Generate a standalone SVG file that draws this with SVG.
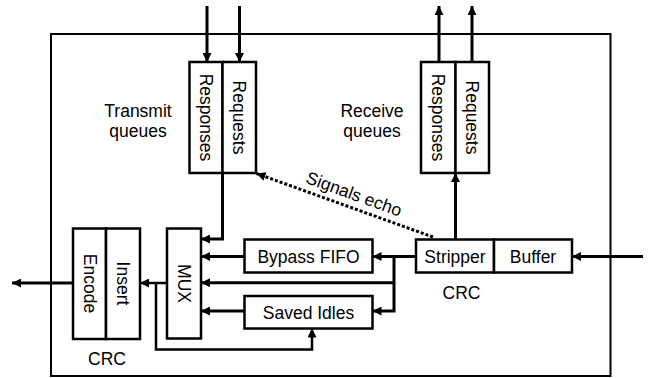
<svg xmlns="http://www.w3.org/2000/svg" width="653" height="378" viewBox="0 0 653 378">
<defs>
<style>
.box{fill:#fff;stroke:#000;stroke-width:2.5}
.frame{fill:none;stroke:#000;stroke-width:2}
.c{fill:none;stroke:#000;stroke-width:3}
.t{stroke-width:2.5}
.dot{fill:none;stroke:#000;stroke-width:3;stroke-dasharray:3 2}
text{font-family:"Liberation Sans",Arial,sans-serif;font-size:17.5px;fill:#000}
.m{text-anchor:middle}
</style>
<marker id="ah" viewBox="0 0 10 10" refX="10" refY="5" markerWidth="9" markerHeight="9" markerUnits="userSpaceOnUse" orient="auto">
<path d="M0,0 L10,5 L0,10 z" fill="#000"/>
</marker>
</defs>
<rect class="frame" x="51" y="34" width="559.5" height="342"/>

<g id="connectors">
<path class="c" d="M207,6 V62" marker-end="url(#ah)"/>
<path class="c" d="M239.5,6 V62" marker-end="url(#ah)"/>
<path class="c" d="M439,62 V6" marker-end="url(#ah)"/>
<path class="c" d="M472,62 V6" marker-end="url(#ah)"/>
<path class="c" d="M222.5,173 V239 H201" marker-end="url(#ah)"/>
<path class="c" d="M244.5,256.5 H201" marker-end="url(#ah)"/>
<path class="c" d="M416,256.5 H372.5" marker-end="url(#ah)"/>
<path class="c" d="M394,256.5 V311 H372.5" marker-end="url(#ah)"/>
<path class="c" d="M394,282.7 H201" marker-end="url(#ah)"/>
<path class="c" d="M244.5,311 H201" marker-end="url(#ah)"/>
<path class="c t" d="M167,283 H140" marker-end="url(#ah)"/>
<path class="c t" d="M156,283 V349.5 H312 V328.5" marker-end="url(#ah)"/>
<path class="c" d="M73,283 H12" marker-end="url(#ah)"/>
<path class="c" d="M643,256.5 H572" marker-end="url(#ah)"/>
<path class="c" d="M455.5,239.5 V173" marker-end="url(#ah)"/>
<path class="dot" d="M433,237 L256.5,173.5" marker-end="url(#ah)"/>
<text class="m" transform="rotate(20 354 194)" x="354" y="200">Signals echo</text>
</g>

<g id="tx-responses">
<rect class="box" x="189.5" y="62" width="33" height="111"/>
<text class="m" transform="translate(206,117.5) rotate(90)" dy="6">Responses</text>
</g>
<g id="tx-requests">
<rect class="box" x="222.5" y="62" width="33.5" height="111"/>
<text class="m" transform="translate(239.3,117.5) rotate(90)" dy="6">Requests</text>
</g>
<g id="tx-label">
<text class="m" x="138" y="117">Transmit</text>
<text class="m" x="138" y="136.5">queues</text>
</g>

<g id="rx-responses">
<rect class="box" x="421" y="62" width="34.5" height="111"/>
<text class="m" transform="translate(438.3,117.5) rotate(90)" dy="6">Responses</text>
</g>
<g id="rx-requests">
<rect class="box" x="455.5" y="62" width="33.5" height="111"/>
<text class="m" transform="translate(472.2,117.5) rotate(90)" dy="6">Requests</text>
</g>
<g id="rx-label">
<text class="m" x="372" y="117">Receive</text>
<text class="m" x="372" y="136.5">queues</text>
</g>

<g id="encode">
<rect class="box" x="73" y="228.5" width="33" height="110.5"/>
<text class="m" transform="translate(89.5,283.5) rotate(90)" dy="6">Encode</text>
</g>
<g id="insert">
<rect class="box" x="106" y="228.5" width="34" height="110.5"/>
<text class="m" transform="translate(123,283.5) rotate(90)" dy="6">Insert</text>
</g>
<g id="crc-tx">
<text class="m" x="107" y="365">CRC</text>
</g>

<g id="mux">
<rect class="box" x="167" y="228.5" width="34" height="110"/>
<text class="m" transform="translate(184,283.5) rotate(90)" dy="6">MUX</text>
</g>

<g id="bypass-fifo">
<rect class="box" x="244.5" y="239.5" width="128" height="33"/>
<text class="m" x="308.5" y="262.5">Bypass FIFO</text>
</g>
<g id="saved-idles">
<rect class="box" x="244.5" y="296" width="128" height="32.5"/>
<text class="m" x="308.5" y="318.5">Saved Idles</text>
</g>

<g id="stripper">
<rect class="box" x="416" y="239.5" width="78" height="33"/>
<text class="m" x="455" y="262.5">Stripper</text>
</g>
<g id="buffer">
<rect class="box" x="494" y="239.5" width="78" height="33"/>
<text class="m" x="533" y="262.5">Buffer</text>
</g>
<g id="crc-rx">
<text class="m" x="461.5" y="298.5">CRC</text>
</g>
</svg>
